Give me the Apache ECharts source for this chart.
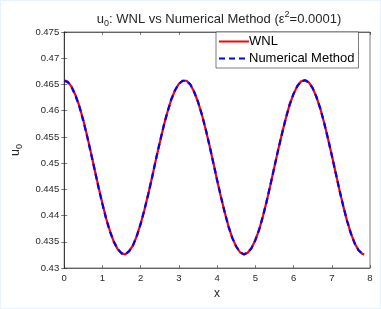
<!DOCTYPE html>
<html><head><meta charset="utf-8">
<script src="https://cdn.jsdelivr.net/npm/echarts@6/dist/echarts.min.js"></script>
<style>html,body{margin:0;padding:0;background:#fff;}#c{width:379px;height:307px;border:1px solid #e6f3fb;}</style>
</head><body><div id="c"></div>
<script>
var xs = [0,0.1,0.2,0.3,0.4,0.5,0.6,0.7,0.8,0.9,1.0,1.1,1.2,1.3,1.4,1.5,1.6,1.7,1.8,1.9,2.0,2.1,2.2,2.3,2.4,2.5,2.6,2.7,2.8,2.9,3.0,3.1,3.2,3.3,3.4,3.5,3.6,3.7,3.8,3.9,4.0,4.1,4.2,4.3,4.4,4.5,4.6,4.7,4.8,4.9,5.0,5.1,5.2,5.3,5.4,5.5,5.6,5.7,5.8,5.9,6.0,6.1,6.2,6.3,6.4,6.5,6.6,6.7,6.8,6.9,7.0,7.1,7.2,7.3,7.4,7.5,7.6,7.7,7.8,7.85];
var wnl = [0.4658,0.4655,0.4645,0.4629,0.4608,0.4582,0.4552,0.4520,0.4487,0.4454,0.4423,0.4394,0.4370,0.4350,0.4336,0.4328,0.4326,0.4332,0.4343,0.4361,0.4384,0.4411,0.4441,0.4473,0.4507,0.4539,0.4570,0.4597,0.4621,0.4639,0.4651,0.4657,0.4657,0.4650,0.4636,0.4617,0.4593,0.4565,0.4534,0.4501,0.4468,0.4436,0.4406,0.4379,0.4357,0.4341,0.4330,0.4326,0.4329,0.4338,0.4353,0.4373,0.4399,0.4428,0.4460,0.4493,0.4526,0.4557,0.4586,0.4612,0.4632,0.4647,0.4656,0.4658,0.4654,0.4643,0.4626,0.4604,0.4577,0.4547,0.4515,0.4482,0.4449,0.4418,0.4390,0.4366,0.4347,0.4334,0.4327,0.4326];
var numerical = [0.4657,0.4654,0.4644,0.4628,0.4607,0.4581,0.4551,0.4519,0.4486,0.4453,0.4422,0.4393,0.4369,0.4350,0.4336,0.4328,0.4326,0.4332,0.4343,0.4361,0.4384,0.4411,0.4441,0.4473,0.4507,0.4539,0.4570,0.4597,0.4621,0.4639,0.4651,0.4657,0.4657,0.4650,0.4636,0.4617,0.4593,0.4565,0.4534,0.4501,0.4468,0.4436,0.4406,0.4379,0.4357,0.4341,0.4330,0.4326,0.4329,0.4338,0.4353,0.4373,0.4399,0.4428,0.4460,0.4493,0.4526,0.4557,0.4586,0.4612,0.4632,0.4647,0.4656,0.4658,0.4654,0.4643,0.4626,0.4604,0.4577,0.4547,0.4515,0.4482,0.4449,0.4418,0.4390,0.4366,0.4347,0.4334,0.4327,0.4326];
var seriesNames = ['WNL','Numerical Method'];
var yTicks = {min:0.43, max:0.475, step:0.005};
var xTicks = {min:0, max:8, step:1};

function pairs(a){return xs.map(function(x,i){return [x,a[i]];});}
var font = 'Liberation Sans, Helvetica, Arial, sans-serif';
var axisCol = '#262626';
var chart = echarts.init(document.getElementById('c'));
var common = {
  axisLine:{show:true,lineStyle:{color:axisCol,width:0.6}},
  axisTick:{show:true,inside:true,length:3,lineStyle:{color:axisCol,width:0.6}},
  splitLine:{show:false}
};
chart.setOption({
  animation:false,
  backgroundColor:'#fff',
  title:{
    text:'{n|u}{s|0}{n|: WNL vs Numerical Method (}{e|ε}{p|2}{n|=0.0001)}',
    left:213, top:4, textAlign:'center',
    textStyle:{fontWeight:'normal',rich:{
      n:{fontFamily:font,fontSize:13,fontWeight:'normal',color:axisCol},
      s:{fontFamily:font,fontSize:9,fontWeight:'normal',color:axisCol,verticalAlign:'bottom',padding:[9,0,0,0]},
      e:{fontFamily:font,fontSize:13,fontWeight:'normal',color:axisCol},
      p:{fontFamily:font,fontSize:9,fontWeight:'normal',color:axisCol,verticalAlign:'top',padding:[0,0,8,0]}
    }}
  },
  grid:{left:62,right:10,top:31,bottom:40,show:true,borderColor:axisCol,borderWidth:0.6},
  legend:{
    orient:'vertical', left:215, top:31,
    backgroundColor:'#fff', borderColor:axisCol, borderWidth:0.6,
    padding:[3,4,3,2], itemGap:4, itemWidth:30, itemHeight:13,
    itemStyle:{opacity:0},
    textStyle:{fontFamily:font,fontSize:13,color:'#000',padding:[0,0,0,-5]},
    data:seriesNames
  },
  xAxis:[
    Object.assign({type:'value',min:xTicks.min,max:xTicks.max,interval:xTicks.step,
      name:'x',nameLocation:'middle',nameGap:20,
      nameTextStyle:{fontFamily:font,fontSize:12,color:axisCol},
      axisLabel:{fontFamily:font,fontSize:9.5,color:axisCol,margin:5}},common),
    Object.assign({type:'value',position:'top',min:xTicks.min,max:xTicks.max,interval:xTicks.step,
      axisLabel:{show:false}},common)
  ],
  yAxis:[
    Object.assign({type:'value',min:yTicks.min,max:yTicks.max,interval:yTicks.step,
      name:'{n|u}{s|0}',nameLocation:'middle',nameGap:36,nameRotate:90,
      nameTextStyle:{rich:{
        n:{fontFamily:font,fontSize:12.5,color:axisCol},
        s:{fontFamily:font,fontSize:9,color:axisCol,verticalAlign:'bottom',padding:[9,0,0,0]}
      }},
      axisLabel:{fontFamily:font,fontSize:9.5,color:axisCol,margin:5,
        formatter:function(v){return String(parseFloat(v.toFixed(3)));}}},common),
    Object.assign({type:'value',position:'right',min:yTicks.min,max:yTicks.max,interval:yTicks.step,
      axisLabel:{show:false}},common)
  ],
  series:[
    {name:seriesNames[0],type:'line',data:pairs(wnl),showSymbol:false,symbol:'none',
     lineStyle:{color:'#ff0000',width:2.2},itemStyle:{color:'#ff0000'},z:2},
    {name:seriesNames[1],type:'line',data:pairs(numerical),showSymbol:false,symbol:'none',
     lineStyle:{color:'#0000ff',width:2.2,type:[6,4]},itemStyle:{color:'#0000ff'},z:3}
  ]
});
</script></body></html>
